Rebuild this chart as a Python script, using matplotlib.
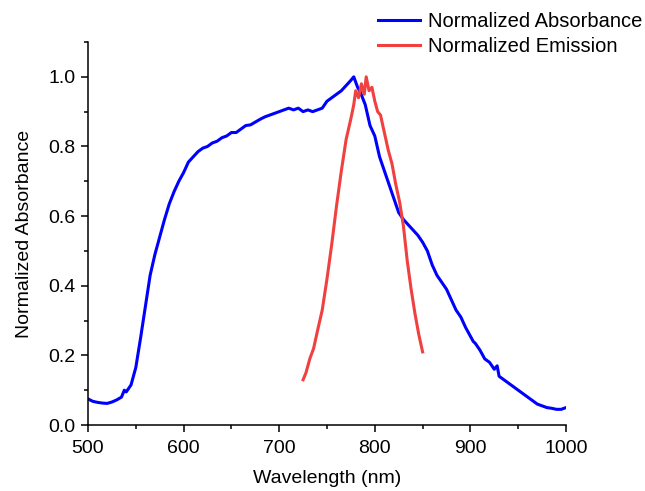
import matplotlib
matplotlib.use("Agg")
import matplotlib.pyplot as plt
from matplotlib.ticker import MultipleLocator

plt.rcParams['font.family'] = ['Liberation Sans', 'DejaVu Sans']

abs_wl = [500, 505, 510, 515, 520, 525, 530, 535, 538, 540, 545, 550, 555, 560, 565, 570,
          575, 580, 585, 590, 595, 600, 605, 610, 615, 620, 625, 630, 635, 640, 645, 650,
          655, 660, 665, 670, 675, 680, 685, 690, 695, 700, 705, 710, 715, 720, 725, 730,
          735, 740, 745, 750, 755, 760, 765, 770, 775, 778, 782, 785, 790, 795, 800, 805,
          810, 815, 820, 825, 830, 835, 840, 845, 850, 855, 860, 865, 870, 875, 880, 885,
          890, 895, 900, 903, 905, 910, 915, 920, 925, 928, 930, 935, 940, 945, 950, 955,
          960, 965, 970, 975, 980, 985, 990, 995, 1000]
abs_val = [0.075, 0.068, 0.065, 0.063, 0.062, 0.066, 0.072, 0.080, 0.100, 0.095, 0.115, 0.165, 0.250, 0.340, 0.430, 0.490,
           0.540, 0.590, 0.635, 0.670, 0.700, 0.725, 0.755, 0.770, 0.785, 0.795, 0.800, 0.810, 0.815, 0.825, 0.830, 0.840,
           0.840, 0.850, 0.860, 0.862, 0.870, 0.878, 0.885, 0.890, 0.895, 0.900, 0.905, 0.910, 0.905, 0.910, 0.900, 0.905,
           0.900, 0.905, 0.910, 0.930, 0.940, 0.950, 0.960, 0.975, 0.990, 1.000, 0.970, 0.955, 0.920, 0.860, 0.830, 0.770,
           0.730, 0.690, 0.650, 0.610, 0.590, 0.575, 0.560, 0.545, 0.525, 0.500, 0.460, 0.430, 0.410, 0.390, 0.360, 0.330,
           0.310, 0.280, 0.255, 0.240, 0.235, 0.215, 0.190, 0.180, 0.160, 0.170, 0.140, 0.130, 0.120, 0.110, 0.100, 0.090,
           0.080, 0.070, 0.060, 0.055, 0.050, 0.048, 0.045, 0.045, 0.050]

em_wl = [725, 728, 732, 736, 740, 745, 750, 755, 760, 765, 770, 775, 778, 780, 783, 786, 789,
         791, 794, 797, 800, 803, 806, 810, 814, 818, 822, 826, 830, 834, 838, 842, 846, 850]
em_val = [0.13, 0.15, 0.19, 0.22, 0.27, 0.33, 0.42, 0.52, 0.63, 0.73, 0.82, 0.88, 0.92, 0.96,
          0.94, 0.98, 0.95, 1.00, 0.96, 0.97, 0.93, 0.90, 0.89, 0.84, 0.79, 0.75, 0.69, 0.64,
          0.57, 0.47, 0.39, 0.32, 0.26, 0.21]

fig = plt.figure(figsize=(6.45, 4.91), dpi=100)
ax = fig.add_axes([88/645, 1-425/491, (566-88)/645, (425-42)/491])

ax.plot(abs_wl, abs_val, color='#0000FF', lw=2.2, label='Normalized Absorbance')
ax.plot(em_wl, em_val, color='#F04040', lw=2.2, label='Normalized Emission')

ax.set_xlim(500, 1000)
ax.set_ylim(0, 1.1)
ax.xaxis.set_major_locator(MultipleLocator(100))
ax.xaxis.set_minor_locator(MultipleLocator(50))
ax.set_yticks([0.0, 0.2, 0.4, 0.6, 0.8, 1.0])
ax.yaxis.set_minor_locator(MultipleLocator(0.1))
ax.set_yticklabels(['0.0', '0.2', '0.4', '0.6', '0.8', '1.0'])

for s in ['top', 'right']:
    ax.spines[s].set_visible(False)
for s in ['left', 'bottom']:
    ax.spines[s].set_linewidth(1.1)
ax.tick_params(which='major', direction='out', length=5, width=1.1, labelsize=14, pad=4)
ax.tick_params(axis='x', which='major', pad=6)
ax.tick_params(which='minor', direction='out', length=3, width=1.1)

ax.set_xlabel('Wavelength (nm)', fontsize=14, labelpad=9)
ax.set_ylabel('Normalized Absorbance', fontsize=14, labelpad=11)

fig.legend(loc='upper left', bbox_to_anchor=(378/645, 1-12/491), frameon=False,
           fontsize=14.5, borderpad=0, borderaxespad=0, handlelength=2.1,
           handletextpad=0.4, labelspacing=0.3)

fig.savefig('out.png', dpi=100)
